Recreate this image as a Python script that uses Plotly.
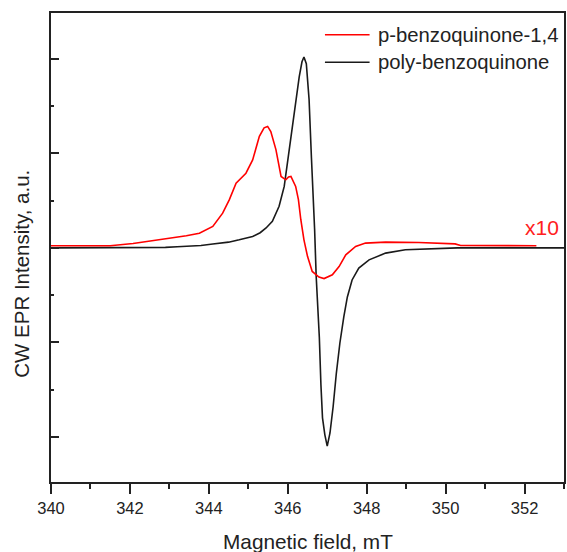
import plotly.graph_objects as go

# Magnetic field axis (mT) and CW EPR derivative signals (arb. units)
field_poly = [340.0, 341.0, 342.0, 342.9, 343.2, 343.8, 344.1, 344.5, 344.77, 345.0,
              345.11, 345.3, 345.45, 345.61, 345.78, 345.91, 346.04, 346.16, 346.29, 346.36,
              346.41, 346.47, 346.54, 346.60, 346.64, 346.68, 346.72, 346.76, 346.80, 346.84,
              346.88, 346.94, 347.0, 347.07, 347.15, 347.23, 347.32, 347.42, 347.51, 347.63,
              347.8, 348.06, 348.48, 348.98, 349.6, 350.24, 350.3, 353.0]
signal_poly = [0.0, 0.0, 0.0, 0.005, 0.012, 0.025, 0.04, 0.06, 0.085, 0.105,
               0.12, 0.16, 0.21, 0.28, 0.44, 0.65, 1.04, 1.43, 1.81, 1.97,
               2.02, 1.95, 1.57, 0.95, 0.62, 0.20, -0.30, -0.58, -0.95, -1.45,
               -1.80, -1.98, -2.10, -1.96, -1.68, -1.33, -1.01, -0.73, -0.52, -0.34,
               -0.215, -0.127, -0.056, -0.02, -0.01, -0.005, 0.0, 0.0]

field_pbq = [340.0, 341.5, 342.08, 342.75, 343.43, 343.76, 344.1, 344.35, 344.52, 344.69,
             344.94, 345.11, 345.28, 345.40, 345.49, 345.57, 345.70, 345.83, 345.95, 346.02,
             346.08, 346.2, 346.27, 346.33, 346.41, 346.5, 346.62, 346.79, 346.92, 347.13,
             347.3, 347.47, 347.72, 347.97, 348.48, 349.32, 350.24, 350.38, 352.1, 352.3]
signal_pbq = [0.022, 0.022, 0.045, 0.085, 0.127, 0.155, 0.226, 0.367, 0.51, 0.685,
              0.79, 0.93, 1.18, 1.27, 1.285, 1.23, 1.04, 0.755, 0.72, 0.75,
              0.755, 0.65, 0.51, 0.30, 0.085, -0.09, -0.25, -0.31, -0.325, -0.286,
              -0.198, -0.074, 0.014, 0.05, 0.06, 0.056, 0.042, 0.025, 0.022, 0.022]

series_names = ["p-benzoquinone-1,4", "poly-benzoquinone"]
series_colors = ["#ff0000", "#1a1a1a"]
x_ticks = [340, 342, 344, 346, 348, 350, 352]

FONT = "Arial, Liberation Sans, sans-serif"
INK = "#222222"

fig = go.Figure()
fig.add_trace(go.Scatter(x=field_poly, y=signal_poly, mode="lines",
                         name=series_names[1], showlegend=False,
                         line=dict(color=series_colors[1], width=1.6)))
fig.add_trace(go.Scatter(x=field_pbq, y=signal_pbq, mode="lines",
                         name=series_names[0], showlegend=False,
                         line=dict(color=series_colors[0], width=1.6)))

# Legend drawn as line samples + labels in the upper right corner
legend_rows = [0.9537, 0.895]
shapes = []
annotations = []
for name, color, yr in zip(series_names, series_colors, legend_rows):
    shapes.append(dict(type="line", xref="paper", yref="paper",
                       x0=0.534, x1=0.621, y0=yr, y1=yr,
                       line=dict(color=color, width=1.6)))
    annotations.append(dict(text=name, xref="paper", yref="paper",
                            x=0.6336, y=yr, xanchor="left", yanchor="middle",
                            showarrow=False, font=dict(family=FONT, size=20.3, color=INK)))

annotations.append(dict(text="x10", xref="paper", yref="paper", x=0.994, y=0.5416,
                        xanchor="right", yanchor="middle", showarrow=False,
                        font=dict(family=FONT, size=21, color="#ff2020")))
annotations.append(dict(text="Magnetic field, mT", xref="paper", yref="paper",
                        x=0.5, y=-0.098, xanchor="center", yanchor="top",
                        showarrow=False, font=dict(family=FONT, size=20.8, color=INK)))
annotations.append(dict(text="CW EPR Intensity, a.u.", xref="paper", yref="paper",
                        x=-0.0569, y=0.4435, xanchor="center", yanchor="middle",
                        textangle=-90, showarrow=False,
                        font=dict(family=FONT, size=20.5, color=INK)))

fig.update_layout(
    width=567, height=552,
    margin=dict(l=51, r=1, t=13, b=70),
    paper_bgcolor="white", plot_bgcolor="white",
    shapes=shapes, annotations=annotations,
    showlegend=False,
)
fig.update_xaxes(range=[340, 353], tickvals=x_ticks, ticktext=[str(t) for t in x_ticks],
                 ticks="outside", ticklen=10, tickwidth=1.8, tickcolor=INK,
                 minor=dict(dtick=1, tick0=340, ticks="outside", ticklen=5, tickwidth=1.8, tickcolor=INK),
                 showline=True, linewidth=1.8, linecolor=INK, mirror=True,
                 showgrid=False, zeroline=False,
                 tickfont=dict(family=FONT, size=16.5, color=INK))
fig.update_yaxes(range=[-2.479, 2.486], dtick=1, tick0=0,
                 ticks="inside", ticklen=8, tickwidth=1.8, tickcolor=INK,
                 minor=dict(dtick=0.5, tick0=0, ticks="inside", ticklen=3, tickwidth=1.8, tickcolor=INK),
                 showticklabels=False,
                 showline=True, linewidth=1.8, linecolor=INK, mirror=True,
                 showgrid=False, zeroline=False)

fig.write_html("out.html")
